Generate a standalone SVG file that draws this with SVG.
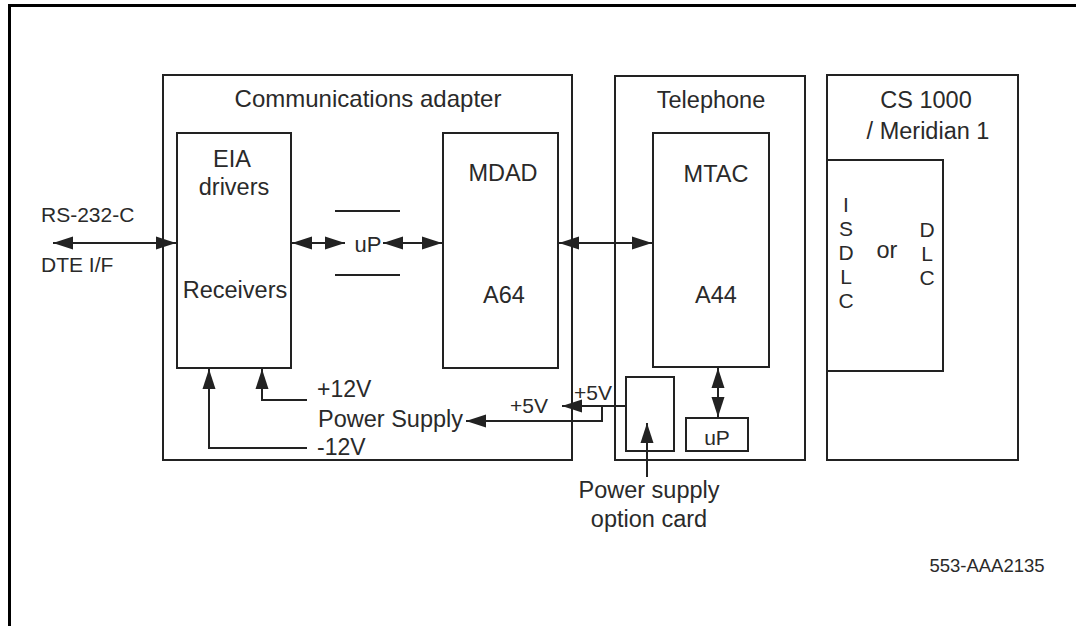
<svg xmlns="http://www.w3.org/2000/svg" width="1076" height="626" viewBox="0 0 1076 626">
<defs>
<marker id="ah" markerUnits="userSpaceOnUse" markerWidth="21" markerHeight="14" refX="20" refY="6.5" orient="auto-start-reverse" viewBox="0 0 21 13">
<path d="M0,0 L20,6.5 L0,13 z" fill="#222"/>
</marker>
<style>
.box{fill:none;stroke:#222;stroke-width:2}
.ln{fill:none;stroke:#222;stroke-width:2}
.t{font-family:"Liberation Sans",Arial,sans-serif;font-size:23.5px;fill:#2a2a2a;text-anchor:middle}
.v{font-family:"Liberation Sans",Arial,sans-serif;font-size:21px;fill:#2a2a2a;text-anchor:middle}
.s{font-family:"Liberation Sans",Arial,sans-serif;font-size:21px;fill:#2a2a2a}
.id{font-family:"Liberation Sans",Arial,sans-serif;font-size:18.5px;fill:#2a2a2a;text-anchor:middle}
</style>
</defs>
<rect width="1076" height="626" fill="#fff"/>
<g id="frame">
<line x1="9.5" y1="5.5" x2="1076" y2="5.5" stroke="#000" stroke-width="3"/>
<line x1="9.5" y1="4" x2="9.5" y2="626" stroke="#000" stroke-width="3"/>
</g>
<g id="comm-adapter">
<rect class="box" x="163" y="75" width="409" height="385"/>
<text class="t" x="368" y="107" style="font-size:24px">Communications adapter</text>
</g>
<g id="eia">
<rect class="box" x="177" y="133" width="114" height="235"/>
<text class="t" x="232" y="167">EIA</text>
<text class="t" x="234" y="195">drivers</text>
<text class="t" x="235" y="298">Receivers</text>
</g>
<g id="mdad">
<rect class="box" x="443" y="133" width="115" height="235"/>
<text class="t" x="503" y="181">MDAD</text>
<text class="t" x="504" y="303">A64</text>
</g>
<g id="up1">
<line class="ln" x1="335" y1="211" x2="400" y2="211"/>
<line class="ln" x1="335" y1="275" x2="400" y2="275"/>
<text class="t" x="368" y="252" style="font-size:22px">uP</text>
</g>
<g id="telephone">
<rect class="box" x="615" y="76" width="190" height="384"/>
<text class="t" x="711" y="108">Telephone</text>
</g>
<g id="mtac">
<rect class="box" x="653" y="133" width="116" height="234"/>
<text class="t" x="716" y="182">MTAC</text>
<text class="t" x="716" y="303">A44</text>
</g>
<g id="ps-card">
<rect class="box" x="626" y="377" width="48" height="74"/>
</g>
<g id="up2">
<rect class="box" x="686" y="418" width="62" height="33"/>
<text class="t" x="717" y="445" style="font-size:21px">uP</text>
</g>
<g id="cs1000">
<rect class="box" x="827" y="75" width="191" height="385"/>
<text class="t" x="926" y="108">CS 1000</text>
<text class="t" x="928" y="139">/ Meridian 1</text>
</g>
<g id="isdlc">
<rect class="box" x="827" y="160" width="116" height="211"/>
<text class="v" x="846" y="212">I</text>
<text class="v" x="846" y="236">S</text>
<text class="v" x="846" y="260">D</text>
<text class="v" x="846" y="284">L</text>
<text class="v" x="846" y="308">C</text>
<text class="t" x="887" y="258">or</text>
<text class="v" x="927" y="237">D</text>
<text class="v" x="927" y="261">L</text>
<text class="v" x="927" y="285">C</text>
</g>
<g id="labels">
<text class="s" x="41" y="222">RS-232-C</text>
<text class="s" x="41" y="272">DTE I/F</text>
<text class="s" x="317" y="397" style="font-size:23px">+12V</text>
<text class="s" x="318" y="427" style="font-size:23.5px">Power Supply</text>
<text class="s" x="317" y="455" style="font-size:23px">-12V</text>
<text class="s" x="510" y="413">+5V</text>
<text class="s" x="574" y="400">+5V</text>
<text class="t" x="649" y="498">Power supply</text>
<text class="t" x="649" y="527">option card</text>
<text class="id" x="987" y="572">553-AAA2135</text>
</g>
<g id="connectors">
<line class="ln" x1="53" y1="243" x2="176" y2="243" marker-start="url(#ah)" marker-end="url(#ah)"/>
<line class="ln" x1="292" y1="243" x2="345" y2="243" marker-start="url(#ah)" marker-end="url(#ah)"/>
<line class="ln" x1="383" y1="243" x2="442" y2="243" marker-start="url(#ah)" marker-end="url(#ah)"/>
<line class="ln" x1="559" y1="243" x2="652" y2="243" marker-start="url(#ah)" marker-end="url(#ah)"/>
<line class="ln" x1="718" y1="368" x2="718" y2="417" marker-start="url(#ah)" marker-end="url(#ah)"/>
<polyline class="ln" points="307,400 262,400 262,369" marker-end="url(#ah)"/>
<polyline class="ln" points="307,448 209,448 209,369" marker-end="url(#ah)"/>
<line class="ln" x1="626" y1="406" x2="562" y2="406" marker-end="url(#ah)"/>
<polyline class="ln" points="602,406 602,421 466,421" marker-end="url(#ah)"/>
<line class="ln" x1="647" y1="477" x2="647" y2="423" marker-end="url(#ah)"/>
</g>
</svg>
